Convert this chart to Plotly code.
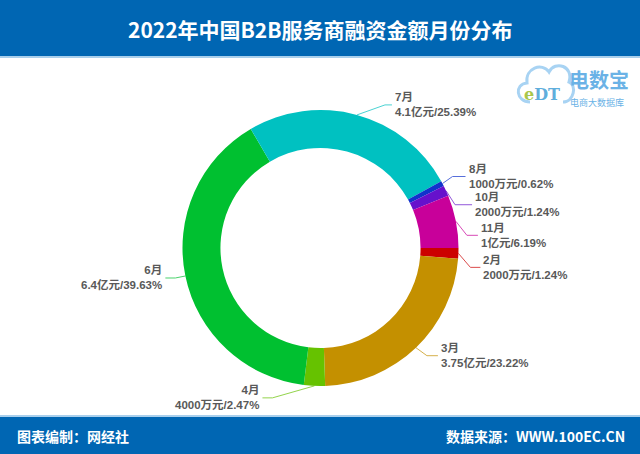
import math
import plotly.graph_objects as go

# data (万元), order as drawn clockwise from 3 o'clock
months = ["2月", "3月", "4月", "6月", "7月", "8月", "10月", "11月"]
amounts = [2000, 37500, 4000, 64000, 41000, 1000, 2000, 10000]
amount_text = ["2000万元", "3.75亿元", "4000万元", "6.4亿元", "4.1亿元", "1000万元", "2000万元", "1亿元"]
pct_text = ["1.24%", "23.22%", "2.47%", "39.63%", "25.39%", "0.62%", "1.24%", "6.19%"]

colors = ["#CC0000", "#C49000", "#66C200", "#00C030", "#00C1C1", "#1133CC", "#6611CC", "#C8009A"]

W, H = 640, 454
cx, cy, R = 320.5, 248, 138   # pie centre / radius in px
hole = 0.725

# leader line tweaks: elbow offset from slice edge (dx, dy) and horizontal length
label_tweak = {
    "2月": (12, 14, 10), "3月": (11, 8, 11), "4月": (-42, 12, 10), "6月": (-10, 2, 10),
    "7月": (28, -10, 7), "8月": (10, -7, 13), "10月": (9, 14, 17), "11月": (11, 14, 11),
}

fig = go.Figure()

fig.add_trace(go.Pie(
    labels=months, values=amounts, sort=False, direction="clockwise", rotation=90,
    hole=hole, marker=dict(colors=colors, line=dict(width=0)),
    textinfo="none", hoverinfo="skip", showlegend=False,
    domain=dict(x=[(cx - R) / W, (cx + R) / W], y=[1 - (cy + R) / H, 1 - (cy - R) / H]),
))

total = sum(amounts)
cum = 0
annotations = []
for m, v, at, pt, col in zip(months, amounts, amount_text, pct_text, colors):
    ang = math.radians(90 + 360 * (cum + v / 2) / total)
    cum += v
    px, py = cx + R * math.sin(ang), cy - R * math.cos(ang)
    dx, dy, hl = label_tweak[m]
    ex, ey = px + dx, py + dy
    right = math.sin(ang) >= 0
    endx = ex + hl if right else ex - hl
    fig.add_trace(go.Scatter(
        x=[px, ex, endx], y=[py, ey, ey], mode="lines",
        line=dict(color=col, width=1), opacity=0.7,
        hoverinfo="skip", showlegend=False,
    ))
    annotations.append(dict(
        x=endx + 2 if right else endx - 2, y=ey, xref="x", yref="y",
        text="<b>" + m + "<br>" + at + "/" + pt + "</b>",
        showarrow=False, xanchor="left" if right else "right", yanchor="middle",
        align="left" if right else "right", borderpad=0,
        font=dict(size=11.5, color="#595959", family="Liberation Sans, Noto Sans CJK SC"),
    ))

# header / footer text
annotations += [
    dict(x=320, y=29, xref="x", yref="y", text="<b>2022年中国B2B服务商融资金额月份分布</b>",
         showarrow=False, font=dict(size=21, color="white")),
    dict(x=15, y=436, xref="x", yref="y", text="<b>图表编制：网经社</b>", xanchor="left",
         showarrow=False, font=dict(size=14, color="white")),
    dict(x=627, y=436, xref="x", yref="y", text="<b>数据来源：WWW.100EC.CN</b>", xanchor="right",
         showarrow=False, font=dict(size=14, color="white")),
    # logo
    dict(x=567, y=79, xref="x", yref="y", text="<b>电数宝</b>", xanchor="left",
         showarrow=False, font=dict(size=20, color="#6AB2E6")),
    dict(x=568, y=102, xref="x", yref="y", text="电商大数据库", xanchor="left",
         showarrow=False, font=dict(size=9, color="#6AB2E6")),
    dict(x=542, y=94, xref="x", yref="y",
         text="<b><span style='color:#A9C64A'>e</span><span style='color:#5FAEDC'>DT</span></b>",
         showarrow=False, font=dict(size=16, family="DejaVu Serif")),
]

shapes = [
    dict(type="rect", xref="x", yref="y", x0=0, x1=W, y0=0, y1=56,
         fillcolor="#0066B3", line=dict(width=0), layer="below"),
    dict(type="rect", xref="x", yref="y", x0=0, x1=W, y0=56, y1=58,
         fillcolor="#A9CFEC", line=dict(width=0), layer="below"),
    dict(type="rect", xref="x", yref="y", x0=0, x1=W, y0=415, y1=417,
         fillcolor="#A9CFEC", line=dict(width=0), layer="below"),
    dict(type="rect", xref="x", yref="y", x0=0, x1=W, y0=417, y1=H,
         fillcolor="#0066B3", line=dict(width=0), layer="below"),
    dict(type="path", xref="x", yref="y",
         path="M 530 102 C 516 102 514 84 527 83 C 525 68 542 62 549 72 "
              "C 555 60 574 66 569 82 C 577 85 574 102 563 102",
         line=dict(color="#A8D3F3", width=3)),
]

fig.update_layout(
    width=W, height=H, margin=dict(l=0, r=0, t=0, b=0),
    paper_bgcolor="white", plot_bgcolor="white",
    font=dict(family="Noto Sans CJK SC"),
    xaxis=dict(range=[0, W], visible=False, fixedrange=True),
    yaxis=dict(range=[H, 0], visible=False, fixedrange=True),
    annotations=annotations, shapes=shapes,
)

fig.write_html("out.html", config={"displayModeBar": False},
               post_script="document.body.style.margin='0px';")
